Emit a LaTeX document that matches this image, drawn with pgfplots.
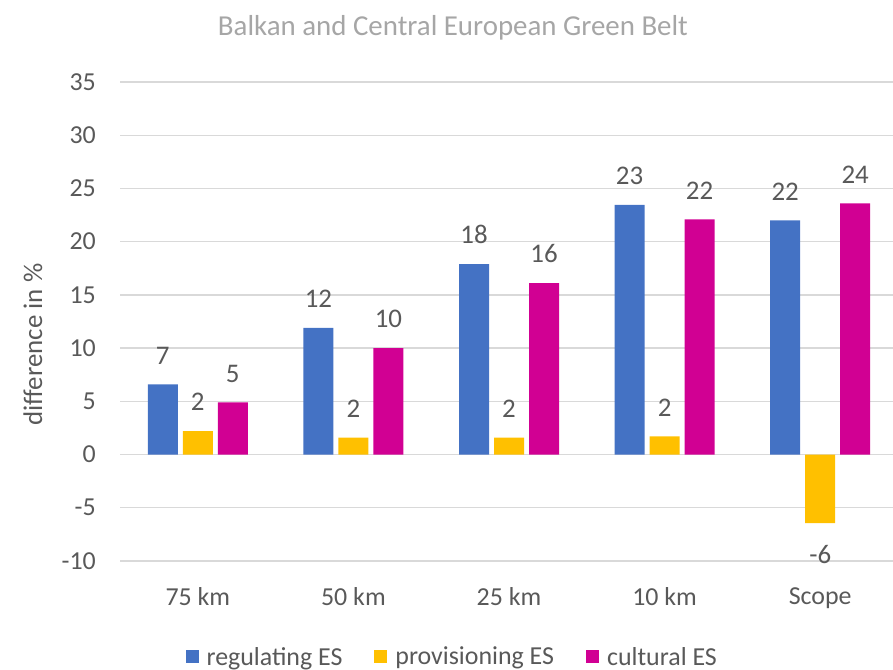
\documentclass[border=0pt]{standalone}
\usepackage{pgfplots}
\pgfplotsset{compat=1.18}
\usepackage{fontspec}
\setmainfont{Carlito}
\definecolor{cblue}{HTML}{4472C4}
\definecolor{cyellow}{HTML}{FFC000}
\definecolor{cmag}{HTML}{D10093}
\definecolor{ctext}{HTML}{595959}
\definecolor{ctitle}{HTML}{A6A6A6}
\definecolor{cgrid}{HTML}{D9D9D9}
\begin{document}
\begin{tikzpicture}
\useasboundingbox (0,0) rectangle (893bp,670bp);
\begin{axis}[
  at={(120bp,109bp)}, anchor=south west,
  scale only axis, width=778bp, height=479bp,
  xmin=-0.5, xmax=4.5, ymin=-10, ymax=35,
  ytick={-10,-5,...,35},
  xtick={0,1,2,3,4},
  xticklabels={75 km,50 km,25 km,10 km,Scope},
  axis line style={draw=none},
  tick style={draw=none},
  ymajorgrids, grid style={cgrid, line width=1.3bp},
  ybar=5bp, bar width=30bp,
  every axis plot/.append style={draw=none},
  ticklabel style={font=\fontsize{26}{28}\selectfont, text=ctext},
  /pgf/number format/assume math mode=true,
  yticklabel style={inner sep=0pt, xshift=-24bp},
  xticklabel style={inner sep=0pt, yshift=-22bp},
  nodes near coords,
  nodes near coords style={font=\fontsize{27}{29}\selectfont, text=ctext, /pgf/number format/fixed, /pgf/number format/precision=0, /pgf/number format/assume math mode=true, inner sep=0pt, yshift=1bp},
  every node near coord/.append style={inner sep=0pt},
  legend columns=3,
  legend style={draw=none, at={(0.427,-0.2)}, anchor=center, font=\fontsize{26}{28}\selectfont, text=ctext, inner sep=0pt, /tikz/every even column/.append style={column sep=30bp}, /tikz/every odd column/.append style={column sep=6bp}},
  legend image code/.code={\fill[#1] (2bp,-6.5bp) rectangle (15bp,6.5bp);},
  clip=false,
]
\addplot[fill=cblue, nodes near coords style={yshift=19bp}] coordinates {(0,6.6) (1,11.9) (2,17.9) (3,23.45) (4,22.0)};
\addplot[fill=cyellow, visualization depends on={y \as \yv}, nodes near coords style={yshift={ifthenelse(\yv<0,-23,19)*1bp}}] coordinates {(0,2.2) (1,1.6) (2,1.6) (3,1.7) (4,-6.45)};
\addplot[fill=cmag, nodes near coords style={yshift=19bp}] coordinates {(0,4.9) (1,10.0) (2,16.1) (3,22.1) (4,23.6)};
\legend{regulating ES,provisioning ES,cultural ES}
\node[font=\fontsize{27}{29}\selectfont, text=ctext, rotate=90] at (rel axis cs:-0.112,0.452) {difference in \%};
\node[font=\fontsize{29}{31}\selectfont, text=ctitle] at (rel axis cs:0.428,1.114) {Balkan and Central European Green Belt};
\end{axis}
\end{tikzpicture}
\end{document}
